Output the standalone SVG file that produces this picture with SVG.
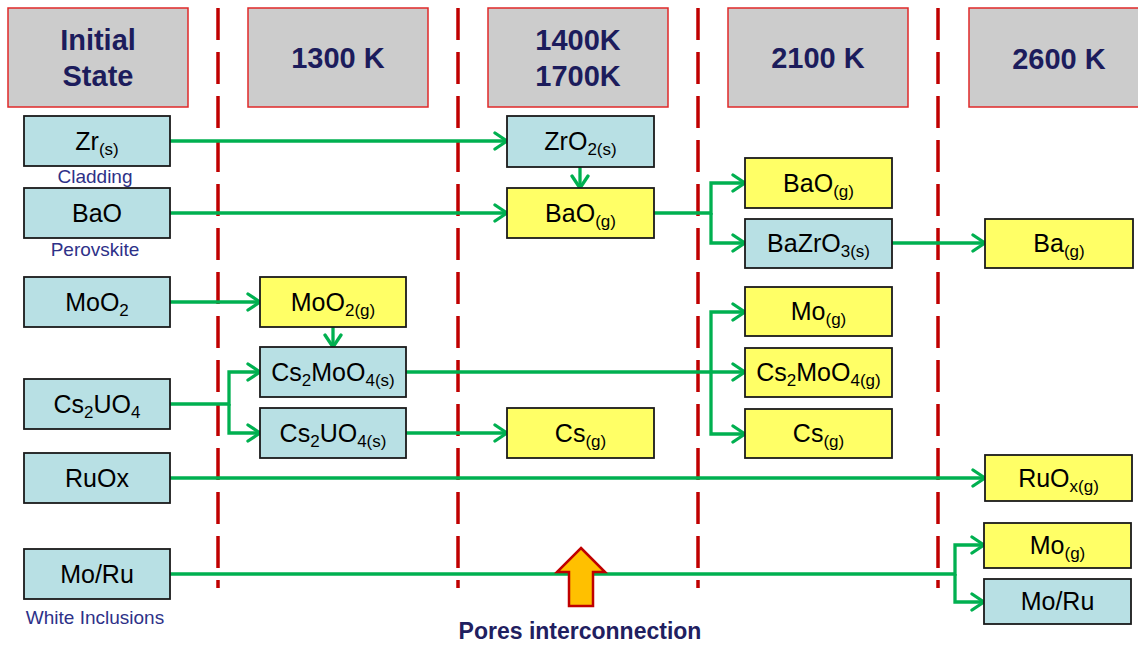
<svg xmlns="http://www.w3.org/2000/svg" width="1138" height="646" viewBox="0 0 1138 646">
<defs>
<marker id="ah" markerUnits="userSpaceOnUse" markerWidth="18" markerHeight="22" refX="14" refY="10" orient="auto" viewBox="0 0 18 22">
<path d="M2,2 L14,10 L2,18" fill="none" stroke="#00b050" stroke-width="3.3" stroke-linecap="round" stroke-linejoin="round"/>
</marker>
<style>
.hdr{fill:#cccccc;stroke:#e02828;stroke-width:1.5}
.ht{font-family:"Liberation Sans",Arial,sans-serif;font-weight:bold;font-size:29px;fill:#1c1c5c;text-anchor:middle}
.blue{fill:#b8e0e4;stroke:#1a1a1a;stroke-width:1.8}
.yel{fill:#ffff66;stroke:#1a1a1a;stroke-width:1.8}
.nt{font-family:"Liberation Sans",Arial,sans-serif;font-size:25px;fill:#000;text-anchor:middle}
.sub{font-size:17px}
.lbl{font-family:"Liberation Sans",Arial,sans-serif;font-size:19px;fill:#2e3188;text-anchor:middle}
.dash{stroke:#c00000;stroke-width:3.5;stroke-dasharray:32 12;fill:none}
.con{fill:none;stroke:#00b050;stroke-width:3.3;marker-end:url(#ah)}
</style>
</defs>

<g id="headers">
<g id="h-initial"><rect class="hdr" x="8" y="8" width="180" height="99"/><text class="ht" x="98" y="50">Initial</text><text class="ht" x="98" y="86">State</text></g>
<g id="h-1300"><rect class="hdr" x="248" y="8" width="180" height="99"/><text class="ht" x="338" y="68">1300 K</text></g>
<g id="h-1400"><rect class="hdr" x="488" y="8" width="180" height="99"/><text class="ht" x="578" y="50">1400K</text><text class="ht" x="578" y="86">1700K</text></g>
<g id="h-2100"><rect class="hdr" x="728" y="8" width="180" height="99"/><text class="ht" x="818" y="68">2100 K</text></g>
<g id="h-2600"><rect class="hdr" x="969" y="8" width="180" height="99"/><text class="ht" x="1059" y="69">2600 K</text></g>
</g>

<g id="separators">
<line class="dash" x1="218" y1="8" x2="218" y2="588"/>
<line class="dash" x1="458" y1="8" x2="458" y2="588"/>
<line class="dash" x1="698" y1="8" x2="698" y2="588"/>
<line class="dash" x1="938" y1="8" x2="938" y2="588"/>
</g>

<g id="connectors">
<path class="con" d="M170,141 H507"/>
<path class="con" d="M580,167 V188"/>
<path class="con" d="M170,213 H507"/>
<path class="con" d="M654,213 H711 V183 H745"/>
<path class="con" d="M711,213 V243 H745"/>
<path class="con" d="M892,243 H985"/>
<path class="con" d="M170,302 H260"/>
<path class="con" d="M333,327 V347"/>
<path class="con" d="M170,404 H229 V372 H260"/>
<path class="con" d="M229,404 V433 H260"/>
<path class="con" d="M406,372 H745"/>
<path class="con" d="M711,372 V312 H745"/>
<path class="con" d="M711,372 V434 H745"/>
<path class="con" d="M406,433 H507"/>
<path class="con" d="M170,478 H985"/>
<path class="con" d="M170,574 H955 V545 H984"/>
<path class="con" d="M955,574 V602 H984"/>
</g>

<g id="n-zr"><rect class="blue" x="24" y="116" width="146" height="50"/><text class="nt" x="97" y="150">Zr<tspan class="sub" dy="5">(s)</tspan></text></g>
<text class="lbl" x="95" y="183">Cladding</text>
<g id="n-bao"><rect class="blue" x="24" y="188" width="146" height="50"/><text class="nt" x="97" y="222">BaO</text></g>
<text class="lbl" x="95" y="256">Perovskite</text>
<g id="n-moo2"><rect class="blue" x="24" y="277" width="146" height="50"/><text class="nt" x="97" y="311">MoO<tspan class="sub" dy="5">2</tspan></text></g>
<g id="n-cs2uo4"><rect class="blue" x="24" y="379" width="146" height="50"/><text class="nt" x="97" y="413">Cs<tspan class="sub" dy="5">2</tspan><tspan dy="-5">UO</tspan><tspan class="sub" dy="5">4</tspan></text></g>
<g id="n-ruox"><rect class="blue" x="24" y="453" width="146" height="50"/><text class="nt" x="97" y="487">RuOx</text></g>
<g id="n-moru"><rect class="blue" x="24" y="549" width="146" height="50"/><text class="nt" x="97" y="583">Mo/Ru</text></g>
<text class="lbl" x="95" y="624">White Inclusions</text>

<g id="n-moo2g"><rect class="yel" x="260" y="277" width="146" height="50"/><text class="nt" x="333" y="311">MoO<tspan class="sub" dy="5">2(g)</tspan></text></g>
<g id="n-cs2moo4s"><rect class="blue" x="260" y="347" width="146" height="50"/><text class="nt" x="333" y="381">Cs<tspan class="sub" dy="5">2</tspan><tspan dy="-5">MoO</tspan><tspan class="sub" dy="5">4(s)</tspan></text></g>
<g id="n-cs2uo4s"><rect class="blue" x="260" y="408" width="146" height="50"/><text class="nt" x="333" y="442">Cs<tspan class="sub" dy="5">2</tspan><tspan dy="-5">UO</tspan><tspan class="sub" dy="5">4(s)</tspan></text></g>

<g id="n-zro2s"><rect class="blue" x="507" y="116" width="147" height="51"/><text class="nt" x="580.5" y="150">ZrO<tspan class="sub" dy="5">2(s)</tspan></text></g>
<g id="n-baog1"><rect class="yel" x="507" y="188" width="147" height="50"/><text class="nt" x="580.5" y="222">BaO<tspan class="sub" dy="5">(g)</tspan></text></g>
<g id="n-csg1"><rect class="yel" x="507" y="408" width="147" height="50"/><text class="nt" x="580.5" y="442">Cs<tspan class="sub" dy="5">(g)</tspan></text></g>

<g id="n-baog2"><rect class="yel" x="745" y="158" width="147" height="50"/><text class="nt" x="818.5" y="192">BaO<tspan class="sub" dy="5">(g)</tspan></text></g>
<g id="n-bazro3s"><rect class="blue" x="745" y="219" width="147" height="49"/><text class="nt" x="818.5" y="252">BaZrO<tspan class="sub" dy="5">3(s)</tspan></text></g>
<g id="n-mog1"><rect class="yel" x="745" y="287" width="147" height="49"/><text class="nt" x="818.5" y="320">Mo<tspan class="sub" dy="5">(g)</tspan></text></g>
<g id="n-cs2moo4g"><rect class="yel" x="745" y="348" width="147" height="49"/><text class="nt" x="818.5" y="381">Cs<tspan class="sub" dy="5">2</tspan><tspan dy="-5">MoO</tspan><tspan class="sub" dy="5">4(g)</tspan></text></g>
<g id="n-csg2"><rect class="yel" x="745" y="409" width="147" height="49"/><text class="nt" x="818.5" y="442">Cs<tspan class="sub" dy="5">(g)</tspan></text></g>

<g id="n-bag"><rect class="yel" x="985" y="219" width="148" height="49"/><text class="nt" x="1059" y="252">Ba<tspan class="sub" dy="5">(g)</tspan></text></g>
<g id="n-ruoxg"><rect class="yel" x="985" y="455" width="147" height="46"/><text class="nt" x="1058.5" y="487">RuO<tspan class="sub" dy="5">x(g)</tspan></text></g>
<g id="n-mog2"><rect class="yel" x="984" y="523" width="147" height="45"/><text class="nt" x="1057.5" y="554">Mo<tspan class="sub" dy="5">(g)</tspan></text></g>
<g id="n-moru2"><rect class="blue" x="984" y="579" width="147" height="45"/><text class="nt" x="1057.5" y="610">Mo/Ru</text></g>

<g id="pores">
<polygon points="581,548 605,572 593,572 593,606 569,606 569,572 557,572" fill="#ffc000" stroke="#c00000" stroke-width="2.5" stroke-linejoin="miter"/>
<text x="580" y="639" font-family="Liberation Sans, Arial, sans-serif" font-weight="bold" font-size="23" fill="#1f2060" text-anchor="middle">Pores interconnection</text>
</g>
</svg>
